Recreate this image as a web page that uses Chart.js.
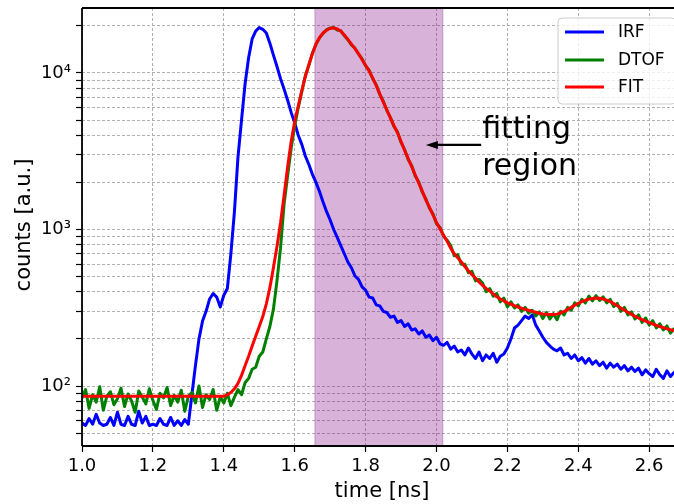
<!DOCTYPE html>
<html><head><meta charset="utf-8">
<script src="https://cdn.jsdelivr.net/npm/chart.js@4/dist/chart.umd.min.js"></script>
<style>html,body{margin:0;padding:0;background:#fff;overflow:hidden}#c{display:block}</style>
</head><body>
<canvas id="c" width="674" height="504"></canvas>
<script>
// ---------------- data ----------------
const times = [
1.00,1.01,1.02,1.03,1.04,1.05,1.06,1.07,1.08,1.09,
1.10,1.11,1.12,1.13,1.14,1.15,1.16,1.17,1.18,1.19,
1.20,1.21,1.22,1.23,1.24,1.25,1.26,1.27,1.28,1.29,
1.30,1.31,1.32,1.33,1.34,1.35,1.36,1.37,1.38,1.39,
1.40,1.41,1.42,1.43,1.44,1.45,1.46,1.47,1.48,1.49,
1.50,1.51,1.52,1.53,1.54,1.55,1.56,1.57,1.58,1.59,
1.60,1.61,1.62,1.63,1.64,1.65,1.66,1.67,1.68,1.69,
1.70,1.71,1.72,1.73,1.74,1.75,1.76,1.77,1.78,1.79,
1.80,1.81,1.82,1.83,1.84,1.85,1.86,1.87,1.88,1.89,
1.90,1.91,1.92,1.93,1.94,1.95,1.96,1.97,1.98,1.99,
2.00,2.01,2.02,2.03,2.04,2.05,2.06,2.07,2.08,2.09,
2.10,2.11,2.12,2.13,2.14,2.15,2.16,2.17,2.18,2.19,
2.20,2.21,2.22,2.23,2.24,2.25,2.26,2.27,2.28,2.29,
2.30,2.31,2.32,2.33,2.34,2.35,2.36,2.37,2.38,2.39,
2.40,2.41,2.42,2.43,2.44,2.45,2.46,2.47,2.48,2.49,
2.50,2.51,2.52,2.53,2.54,2.55,2.56,2.57,2.58,2.59,
2.60,2.61,2.62,2.63,2.64,2.65,2.66,2.67];

const irf = [
58,56,62,57,66,58,56,57,63,56,
68,57,56,64,57,56,69,58,64,56,
57,56,62,57,56,63,56,60,56,61,
57,88,135,200,260,300,360,390,370,320,
380,420,700,1300,2900,5000,8500,12500,16500,18500,
19500,19000,18000,15500,13000,11000,9200,7900,6700,5600,
4800,4000,3500,2950,2600,2250,2000,1750,1500,1300,
1150,1000,890,790,700,620,570,505,480,430,
410,370,365,330,325,300,295,275,280,255,
262,240,250,228,232,215,225,205,212,195,
205,186,182,190,172,180,165,170,158,175,
160,150,165,145,158,150,162,142,155,160,
175,200,235,245,262,280,270,285,245,225,
205,190,180,172,168,175,158,162,150,158,
145,152,140,150,138,145,135,142,130,140,
132,138,128,135,125,132,124,130,118,127,
120,115,128,118,112,125,115,122];

const dtof = [
84,95,72,88,79,99,70,86,92,76,
83,97,74,89,80,68,93,85,77,96,
81,71,90,84,98,75,87,79,94,69,
86,91,78,100,73,88,82,95,70,85,
78,90,75,85,95,88,105,112,128,132,
155,165,200,240,310,470,760,1450,2200,3300,
4600,6000,7600,9600,11200,13400,15200,16800,17900,18900,
19300,19500,18800,18600,17300,16300,15100,14400,13200,12300,
11100,10400,9200,8400,7300,6600,5750,5200,4550,4200,
3600,3250,2800,2560,2200,2010,1730,1570,1370,1260,
1090,1030,905,855,790,680,690,600,600,530,
540,470,480,455,400,420,375,390,345,365,
320,345,315,330,300,318,292,305,280,298,
270,295,268,290,265,300,285,318,305,340,
325,358,340,375,350,378,352,372,340,358,
322,338,300,318,285,298,268,285,255,272,
245,262,235,250,228,242,218,232];

const fit = [
86,86,86,86,86,86,86,86,86,86,
86,86,86,86,86,86,86,86,86,86,
86,86,86,86,86,86,86,86,86,86,
86,86,86,86,86,86,86,86,86,86,
86,88,91,96,104,117,135,155,180,208,
240,278,335,425,570,780,1100,1650,2500,3650,
4900,6150,7700,9500,11300,13300,15300,16800,18000,18800,
19300,19400,19100,18500,17500,16400,15300,14300,13300,12200,
11200,10300,9300,8300,7350,6500,5800,5150,4600,4150,
3650,3200,2850,2520,2230,1980,1760,1540,1390,1240,
1110,1010,920,840,760,700,660,620,580,545,
515,490,462,440,420,405,388,372,360,350,
340,333,326,320,314,309,305,300,296,292,
289,287,286,286,288,293,300,308,318,328,
338,346,353,359,363,365,364,360,354,346,
336,326,315,305,296,287,279,272,266,260,
254,249,244,240,236,232,229,226];

const seriesNames = ['IRF', 'DTOF', 'FIT'];
const xTickValues = [1.0, 1.2, 1.4, 1.6, 1.8, 2.0, 2.2, 2.4, 2.6];
const yMajorTicks = [100, 1000, 10000];
const yMajorLabels = ['10²', '10³', '10⁴'];
const yMinorTicks = [50,60,70,80,90,200,300,400,500,600,700,800,900,2000,3000,4000,5000,6000,7000,8000,9000,20000];
const xRange = [1.0, 2.67];
const yRange = [41.4, 26000];
const fitRegion = [1.657, 2.018];
const arrowTip = [1.970, 3470];
const arrowTail = [2.126, 3470];
const annotationLines = ['fitting', 'region'];
const xLabel = 'time [ns]';
const yLabel = 'counts [a.u.]';

// ---------------- drawing ----------------
const FONT = "'DejaVu Sans', 'Liberation Sans', sans-serif";
const COLORS = ['#0000ff', '#008000', '#ff0000'];
const ORDER = [2, 1, 0]; // FIT drawn on top, IRF at the bottom
const seriesData = [irf, dtof, fit];

const datasets = seriesNames.map((name, k) => ({
  label: name,
  data: times.map((t, i) => ({x: t, y: seriesData[k][i]})),
  borderColor: COLORS[k],
  backgroundColor: COLORS[k],
  borderWidth: 3,
  pointRadius: 0,
  tension: 0,
  fill: false,
  order: ORDER[k]
}));

const decorPlugin = {
  id: 'decor',
  beforeDraw(chart) {
    const ctx = chart.ctx;
    ctx.save();
    ctx.fillStyle = '#fff';
    ctx.fillRect(0, 0, chart.width, chart.height);
    ctx.restore();
  },
  beforeDatasetsDraw(chart) {
    const {ctx, chartArea: a, scales: {x}} = chart;
    const x0 = x.getPixelForValue(fitRegion[0]);
    const x1 = x.getPixelForValue(fitRegion[1]);
    ctx.save();
    ctx.fillStyle = 'rgba(128,0,128,0.3)';
    ctx.fillRect(x0, a.top, x1 - x0, a.bottom - a.top);
    ctx.strokeStyle = 'rgba(128,0,128,0.3)';
    ctx.lineWidth = 1;
    ctx.beginPath();
    ctx.moveTo(x0, a.top); ctx.lineTo(x0, a.bottom);
    ctx.moveTo(x1, a.top); ctx.lineTo(x1, a.bottom);
    ctx.stroke();
    ctx.restore();
  },
  afterDatasetsDraw(chart) {
    const {ctx, chartArea: a, scales: {x, y}} = chart;
    ctx.save();
    // spines
    ctx.strokeStyle = '#000';
    ctx.lineWidth = 1.8;
    ctx.beginPath();
    ctx.moveTo(a.left, a.top); ctx.lineTo(a.right + 2, a.top);
    ctx.moveTo(a.left, a.top); ctx.lineTo(a.left, a.bottom);
    ctx.moveTo(a.left, a.bottom); ctx.lineTo(a.right + 2, a.bottom);
    ctx.stroke();

    // annotation arrow
    const tx = x.getPixelForValue(arrowTip[0]), ty = y.getPixelForValue(arrowTip[1]);
    const sx = x.getPixelForValue(arrowTail[0]), sy = y.getPixelForValue(arrowTail[1]);
    ctx.strokeStyle = '#000';
    ctx.fillStyle = '#000';
    ctx.lineWidth = 2.2;
    ctx.beginPath();
    ctx.moveTo(sx, sy); ctx.lineTo(tx + 10, ty);
    ctx.stroke();
    ctx.beginPath();
    ctx.moveTo(tx, ty);
    ctx.lineTo(tx + 12, ty - 4);
    ctx.lineTo(tx + 12, ty + 4);
    ctx.closePath();
    ctx.fill();
    // annotation text
    ctx.font = '30px ' + FONT;
    ctx.textAlign = 'left';
    ctx.textBaseline = 'alphabetic';
    ctx.fillText(annotationLines[0], sx + 1, sy - 7);
    ctx.fillText(annotationLines[1], sx + 1, sy + 30);

    // legend
    const lx = 558, ly = 18, lw = 118, lh = 86, r = 4;
    ctx.beginPath();
    ctx.moveTo(lx + r, ly);
    ctx.lineTo(lx + lw - r, ly);
    ctx.arcTo(lx + lw, ly, lx + lw, ly + r, r);
    ctx.lineTo(lx + lw, ly + lh - r);
    ctx.arcTo(lx + lw, ly + lh, lx + lw - r, ly + lh, r);
    ctx.lineTo(lx + r, ly + lh);
    ctx.arcTo(lx, ly + lh, lx, ly + lh - r, r);
    ctx.lineTo(lx, ly + r);
    ctx.arcTo(lx, ly, lx + r, ly, r);
    ctx.closePath();
    ctx.fillStyle = 'rgba(255,255,255,0.8)';
    ctx.fill();
    ctx.strokeStyle = '#cccccc';
    ctx.lineWidth = 1;
    ctx.stroke();
    ctx.font = '17px ' + FONT;
    ctx.textBaseline = 'middle';
    const rowY = [32, 60, 87];
    seriesNames.forEach((name, k) => {
      ctx.strokeStyle = COLORS[k];
      ctx.lineWidth = 3;
      ctx.beginPath();
      ctx.moveTo(565, rowY[k]); ctx.lineTo(604, rowY[k]);
      ctx.stroke();
      ctx.fillStyle = '#000';
      ctx.fillText(name, 618, rowY[k] + 1);
    });

    // axis titles
    ctx.fillStyle = '#000';
    ctx.font = '21px ' + FONT;
    ctx.textAlign = 'center';
    ctx.textBaseline = 'alphabetic';
    ctx.fillText(xLabel, 382, 497);
    ctx.save();
    ctx.translate(30, 225);
    ctx.rotate(-Math.PI / 2);
    ctx.fillText(yLabel, 0, 0);
    ctx.restore();
    ctx.restore();
  }
};

const gridCommon = {
  color: '#b0b0b0',
  lineWidth: 1,
  drawTicks: true,
  tickColor: '#000',
  tickLength: 6,
  tickWidth: 1.2,
  tickBorderDash: []
};

new Chart(document.getElementById('c'), {
  type: 'line',
  data: {datasets},
  plugins: [decorPlugin],
  options: {
    responsive: false,
    animation: false,
    devicePixelRatio: 1,
    layout: {padding: {top: 8, left: 0, right: 0, bottom: 0}},
    plugins: {legend: {display: false}, tooltip: {enabled: false}},
    elements: {line: {borderJoinStyle: 'round', borderCapStyle: 'round'}},
    scales: {
      x: {
        type: 'linear',
        min: xRange[0],
        max: xRange[1],
        afterBuildTicks: s => { s.ticks = xTickValues.map(v => ({value: v})); },
        afterFit: s => { s.height = 58; s.paddingLeft = 0; s.paddingRight = 0; },
        ticks: {
          font: {family: FONT, size: 18},
          color: '#000',
          padding: 4,
          maxRotation: 0,
          autoSkip: false,
          callback: v => Number(v).toFixed(1)
        },
        grid: gridCommon,
        border: {display: false, dash: [3, 2]}
      },
      y: {
        type: 'logarithmic',
        min: yRange[0],
        max: yRange[1],
        afterBuildTicks: s => {
          s.ticks = yMajorTicks.concat(yMinorTicks).sort((a, b) => a - b)
            .map(v => ({value: v, major: false}));
        },
        afterFit: s => { s.width = 82; s.paddingTop = 0; s.paddingBottom = 0; },
        ticks: {
          font: {family: FONT, size: 18},
          color: '#000',
          padding: 5,
          autoSkip: false,
          callback: v => {
            const i = yMajorTicks.indexOf(Number(v));
            return i >= 0 ? yMajorLabels[i] : '';
          }
        },
        grid: gridCommon,
        border: {display: false, dash: [3, 2]}
      }
    }
  }
});
</script>
</body></html>
